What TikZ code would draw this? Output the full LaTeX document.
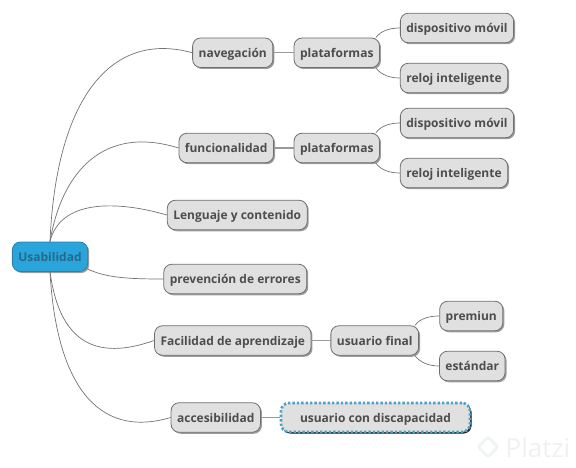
\documentclass[tikz,border=0pt]{standalone}
\usepackage{xcolor}
\usepackage{fontspec}
\setmainfont{Open Sans}
\usetikzlibrary{shapes.geometric, shadows}
\definecolor{boxfill}{HTML}{E0E0E0}
\definecolor{boxline}{HTML}{6E6E6E}
\definecolor{boxtext}{HTML}{4D4D4D}
\definecolor{rootfill}{HTML}{2AA5DC}
\definecolor{rootline}{HTML}{2C7FA5}
\definecolor{roottext}{HTML}{26698A}
\definecolor{dotline}{HTML}{4FA0C4}
\tikzstyle{topic} = [rectangle, rounded corners=8pt, inner xsep=6pt, minimum height=29.5pt, text height=11pt, text depth=2pt, text centered, font=\bfseries\fontsize{12}{14}\selectfont, text=boxtext, draw=boxline, line width=0.8pt, fill=boxfill, drop shadow={shadow xshift=1.5pt, shadow yshift=-1.5pt, fill=black!55, opacity=0.7}]
\tikzstyle{rootbox} = [topic, fill=rootfill, draw=rootline, text=roottext]
\tikzstyle{dotbox} = [topic, draw=dotline, line width=2.6pt, dash pattern=on 2.4pt off 2pt, minimum height=29pt, minimum width=189pt, drop shadow={shadow xshift=1.5pt, shadow yshift=-1.5pt, fill=black!90, opacity=0.9}]
\tikzstyle{branch} = [draw=black!55, line width=0.7pt]
\tikzstyle{link} = [draw=black!40, line width=1.1pt]
\begin{document}
\begin{tikzpicture}[x=1pt, y=-1pt, node distance=100pt]
    \useasboundingbox (0,0) rectangle (576,468);
    \node (root) [rootbox] at (50,256.75) {Usabilidad};
    \node (nav) [topic, right of=root, xshift=82.75pt, yshift=204pt] {navegación};
    \node (platA) [topic, right of=nav, xshift=4pt] {plataformas};
    \node (movilA) [topic, right of=platA, xshift=20.25pt, yshift=24.75pt] {dispositivo móvil};
    \node (relojA) [topic, right of=platA, xshift=17.25pt, yshift=-25.25pt] {reloj inteligente};
    \node (func) [topic, right of=root, xshift=76.25pt, yshift=108.75pt] {funcionalidad};
    \node (platB) [topic, right of=func, xshift=10.5pt] {plataformas};
    \node (movilB) [topic, right of=platB, xshift=20.25pt, yshift=25pt] {dispositivo móvil};
    \node (relojB) [topic, right of=platB, xshift=17.25pt, yshift=-25pt] {reloj inteligente};
    \node (leng) [topic, right of=root, xshift=87.25pt, yshift=41.75pt] {Lenguaje y contenido};
    \node (prev) [topic, right of=root, xshift=85.25pt, yshift=-22.25pt] {prevención de errores};
    \node (faci) [topic, right of=root, xshift=82.75pt, yshift=-83.75pt] {Facilidad de aprendizaje};
    \node (final) [topic, right of=faci, xshift=42pt] {usuario final};
    \node (prem) [topic, right of=final, xshift=-3.5pt, yshift=24.5pt] {premiun};
    \node (estan) [topic, right of=final, xshift=-2.5pt, yshift=-25.5pt] {estándar};
    \node (acce) [topic, right of=root, xshift=65.75pt, yshift=-160.75pt] {accesibilidad};
    \node (disc) [dotbox, right of=acce, xshift=59.75pt] {usuario con discapacidad};
    % watermark
    \node (logo) [diamond, draw=green!30!black!6, line width=3pt, rounded corners=2pt, minimum size=21pt, inner sep=0pt] at (488,447) {};
    \node (brand) [right of=logo, xshift=-50pt, yshift=-1pt, text=black!6, font=\fontsize{26}{28}\selectfont] {Platzi};

    \draw [branch] (root.north) .. controls (56,100) and (110,30) .. (nav.west);
    \draw [branch] (root.north) .. controls (62,170) and (105,125) .. (func.west);
    \draw [branch] (root.north) .. controls (60,200) and (115,200) .. (leng.west);
    \draw [branch] ([xshift=-1.5pt,yshift=3.5pt]root.south east) .. controls (105,278) and (130,279) .. (prev.west);
    \draw [branch] (root.south) .. controls (58,330) and (85,365) .. (faci.west);
    \draw [branch] (root.south) .. controls (56,380) and (95,440) .. (acce.west);
    \draw [link] (nav) -- (platA);
    \draw [link] (func) -- (platB);
    \draw [link] (faci) -- (final);
    \draw [link] (acce) -- (disc);
    \draw [branch] ([xshift=-4pt]platA.north east) .. controls +(5,-7) and +(-10,0) .. (movilA.west);
    \draw [branch] ([xshift=-4pt]platA.south east) .. controls +(5,7) and +(-10,0) .. (relojA.west);
    \draw [branch] ([xshift=-4pt]platB.north east) .. controls +(5,-7) and +(-10,0) .. (movilB.west);
    \draw [branch] ([xshift=-4pt]platB.south east) .. controls +(5,7) and +(-10,0) .. (relojB.west);
    \draw [branch] ([xshift=-4pt]final.north east) .. controls +(5,-7) and +(-10,0) .. (prem.west);
    \draw [branch] ([xshift=-4pt]final.south east) .. controls +(5,7) and +(-10,0) .. (estan.west);
\end{tikzpicture}
\end{document}
